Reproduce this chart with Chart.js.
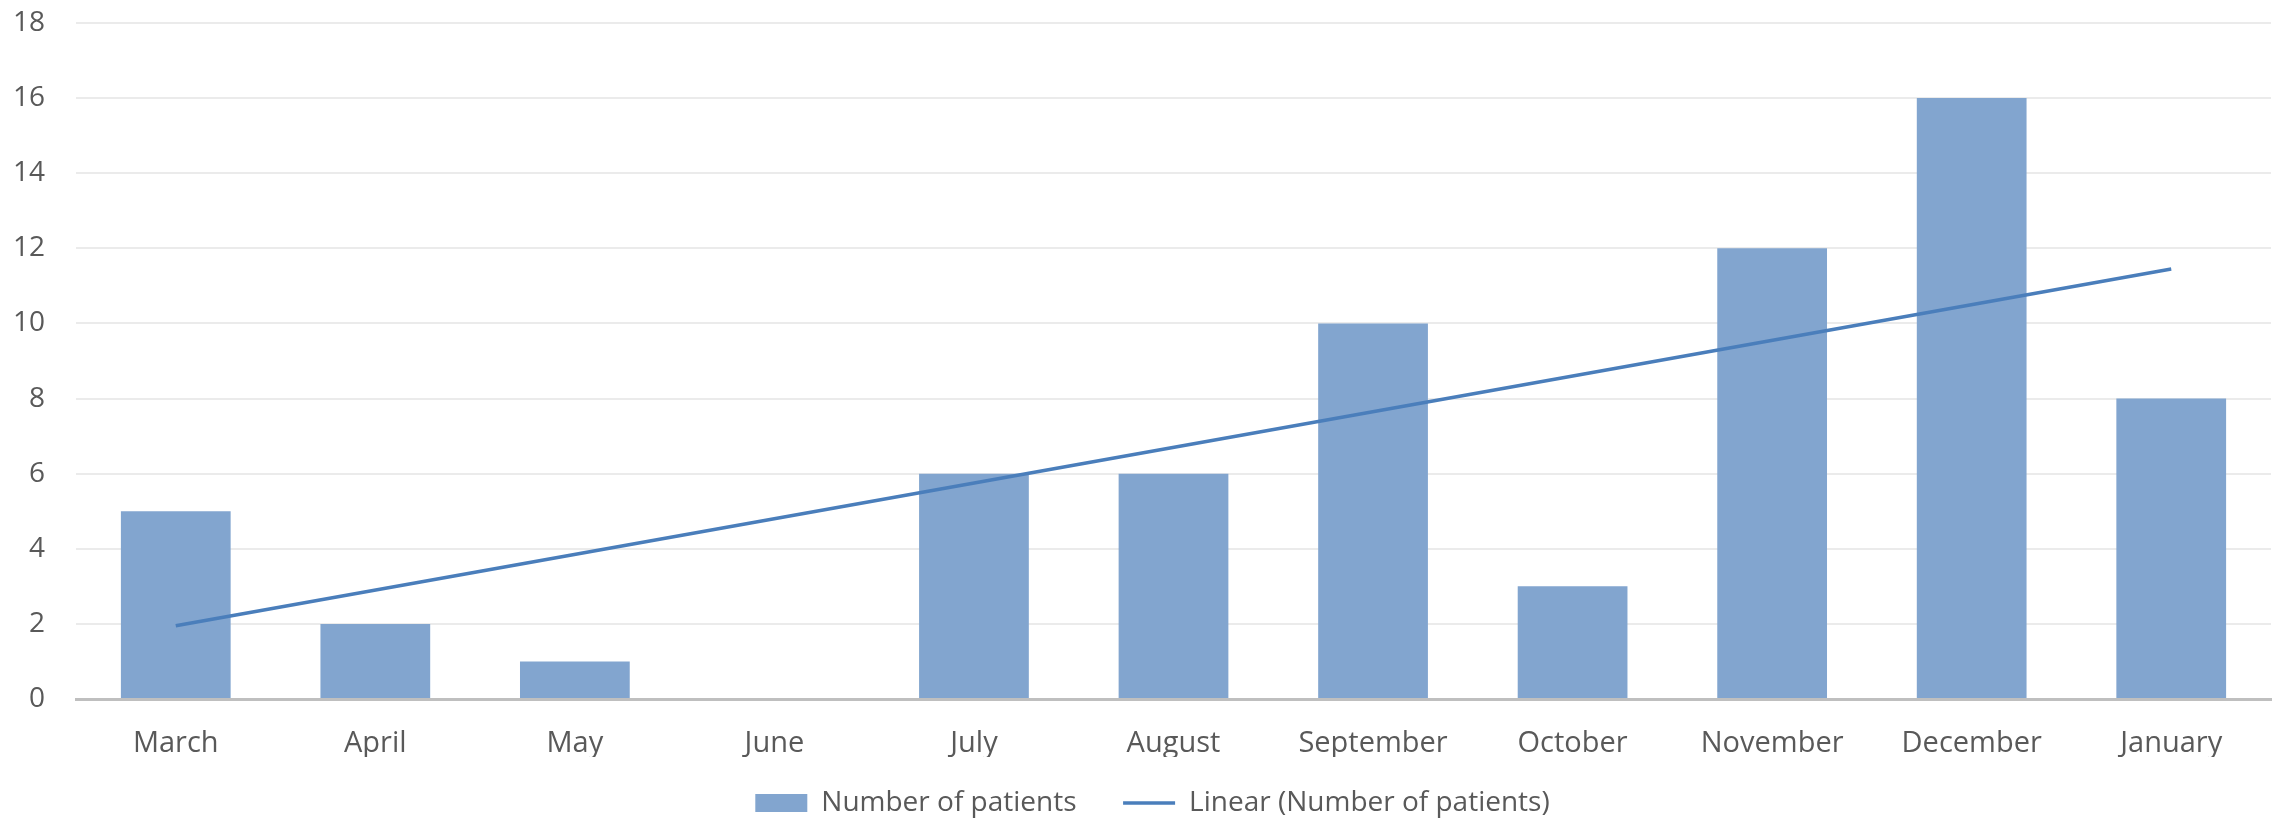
<!DOCTYPE html>
<html>
<head>
<meta charset="utf-8">
<script src="https://cdn.jsdelivr.net/npm/chart.js"></script>
<style>
  html, body { margin: 0; padding: 0; background: #fff; }
  #wrap { width: 2280px; height: 821px; position: relative; }
</style>
</head>
<body>
<div id="wrap"><canvas id="chart"></canvas></div>
<script>
const months = ['March', 'April', 'May', 'June', 'July', 'August', 'September', 'October', 'November', 'December', 'January'];
const patients = [5, 2, 1, 0, 6, 6, 10, 3, 12, 16, 8];
// trend line: start (March) and end (January)
const trend = [1.95, null, null, null, null, null, null, null, null, null, 11.45];
const yTicks = [0, 2, 4, 6, 8, 10, 12, 14, 16, 18];

const textColor = '#595959';
const barColor = '#82a5cf';
const lineColor = '#4a7ebb';

// chart.js leaves a trailing padding in the legend row, nudge it back to centre
const legendShift = {
  id: 'legendShift',
  afterLayout(chart) {
    chart.legend.left += 17;
    chart.legend.right += 17;
  },
};

const config = {
  type: 'bar',
  data: {
    labels: months,
    datasets: [
      {
        type: 'bar',
        label: 'Number of patients',
        data: patients,
        backgroundColor: barColor,
        borderWidth: 0,
        categoryPercentage: 1,
        barPercentage: 0.55,
        pointStyle: 'rect',
        order: 1,
      },
      {
        type: 'line',
        label: 'Linear (Number of patients)',
        data: trend,
        spanGaps: true,
        borderColor: lineColor,
        backgroundColor: lineColor,
        borderWidth: 3.5,
        pointRadius: 0,
        pointStyle: 'line',
        fill: false,
        order: 0,
      },
    ],
  },
  options: {
    responsive: true,
    maintainAspectRatio: false,
    animation: false,
    layout: { padding: { top: 23, right: 9, left: 0, bottom: -6 } },
    plugins: {
      tooltip: { enabled: false },
      legend: {
        position: 'bottom',
        labels: {
          color: textColor,
          font: { family: 'Open Sans', size: 28 },
          usePointStyle: true,
          pointStyleWidth: 52,
          boxHeight: 18,
          padding: 32,
          sort: (a, b) => a.datasetIndex - b.datasetIndex,
          generateLabels: (chart) => {
            const items = Chart.defaults.plugins.legend.labels.generateLabels(chart);
            // a little more room after the first entry, as in the original
            items.forEach(it => { if (it.datasetIndex === 0) it.text = it.text + '  '; });
            return items;
          },
        },
      },
    },
    scales: {
      x: {
        grid: { display: false, drawTicks: false },
        border: { display: true, color: '#bfbfbf', width: 3 },
        ticks: {
          color: textColor,
          font: { family: 'Open Sans', size: 29 },
          padding: 27,
          maxRotation: 0,
        },
        afterFit: (scale) => { scale.height = 58; },
      },
      y: {
        min: 0,
        max: 18,
        afterBuildTicks: (scale) => { scale.ticks = yTicks.map(v => ({ value: v })); },
        grid: {
          drawTicks: false,
          color: (ctx) => ctx.tick && ctx.tick.value === 0 ? 'rgba(0,0,0,0)' : '#ebebeb',
          lineWidth: 2,
        },
        border: { display: false },
        ticks: {
          color: textColor,
          font: { family: 'Open Sans', size: 28 },
          padding: 31,
        },
        afterFit: (scale) => {
          scale.width = 76;
          scale.paddingTop = 0;
          scale.paddingBottom = 0;
        },
      },
    },
  },
  plugins: [legendShift],
};

const ctx = document.getElementById('chart');
window.myChart = new Chart(ctx, config);
</script>
</body>
</html>
